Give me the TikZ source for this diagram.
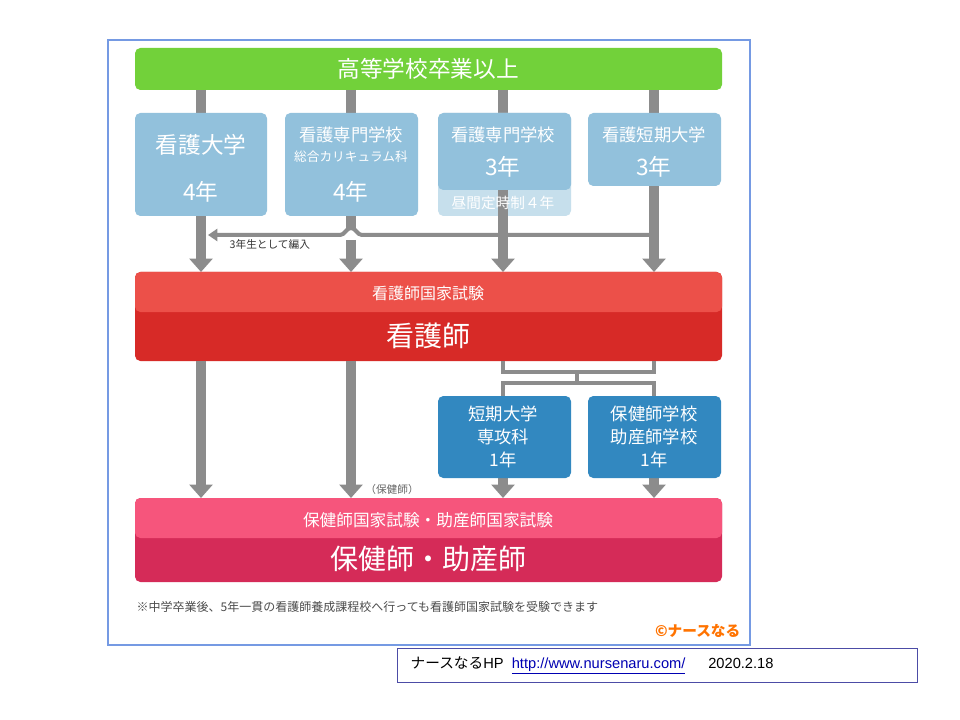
\documentclass[tikz,border=0pt]{standalone}
\usepackage{fontspec}
\newfontfamily\jp{Noto Sans CJK JP}
\setmainfont{Liberation Sans}
\usetikzlibrary{arrows.meta}
\definecolor{gbar}{HTML}{72D13A}
\definecolor{lblue}{HTML}{92C1DC}
\definecolor{llblue}{HTML}{C6DFEC}
\definecolor{redtop}{HTML}{EC5049}
\definecolor{redbot}{HTML}{D72A27}
\definecolor{dblue}{HTML}{3288C0}
\definecolor{pinktop}{HTML}{F6557C}
\definecolor{pinkbot}{HTML}{D52B58}
\definecolor{arr}{HTML}{8C8C8C}
\tikzset{
  box/.style={rounded corners=4pt,draw=none},
  wt/.style={text=white,font=\jp\bfseries,align=center,inner sep=0pt},
  garr/.style={draw=arr,line width=7.5pt,-{Triangle[width=17pt,length=10pt]}},
  gline/.style={draw=arr,line width=7.5pt},
  thin/.style={draw=arr,line width=3pt}
}
\begin{document}
\begin{tikzpicture}[x=0.75pt,y=-0.75pt]
\useasboundingbox (0,0) rectangle (960,720);
\fill[white] (0,0) rectangle (960,720);
\draw[draw=lblue!80!blue,line width=0.8pt] (108,40) rectangle (750,645);
% top bar
\fill[gbar,box] (135,48) rectangle (722,90);
\node[wt,font=\jp\fontsize{17}{20}\selectfont] (top) at (428,69) {高等学校卒業以上};
% columns
\coordinate (c1) at (201,90); \coordinate (c2) at (351,90);
\coordinate (c3) at (503,90); \coordinate (c4) at (654,90);
\draw[gline] (201,90) -- (201,113);
\draw[gline] (351,90) -- (351,113);
\draw[gline] (503,90) -- (503,113);
\draw[gline] (654,90) -- (654,113);
% transfer line
\draw[thin,-{Triangle[width=9pt,length=7pt]}] (654,235) -- (362,235) to[out=180,in=0] (351,228) to[out=180,in=0] (340,235) -- (208,235);
\node[font=\jp\fontsize{8}{9}\selectfont,text=black!80,anchor=west] (hen) at (225,244) {3年生として編入};
% arrows to red
\draw[garr] (201,216) -- (201,272);
\draw[gline] (351,216) -- (351,228);
\draw[garr] (351,240) -- (351,272);
\draw[garr] (503,216) -- (503,272);
\draw[garr] (654,186) -- (654,272);
% boxes
\fill[lblue,box] (135,113) rectangle (267,216);
\node[wt,font=\jp\fontsize{17}{20}\selectfont] (b1) at (201,145) {看護大学};
\node[wt,font=\jp\fontsize{17}{20}\selectfont] (b1y) at (201,192) {4年};
\fill[lblue,box] (285,113) rectangle (418,216);
\node[wt,font=\jp\fontsize{13}{15}\selectfont] (b2) at (351,135) {看護専門学校};
\node[wt,font=\jp\fontsize{9.5}{11}\selectfont] (b2b) at (351,157) {総合カリキュラム科};
\node[wt,font=\jp\fontsize{17}{20}\selectfont] (b2y) at (351,192) {4年};
\fill[llblue,box] (438,113) rectangle (571,216);
\fill[lblue,rounded corners=4pt] (438,113) -- (571,113) -- (571,190) -- (438,190) -- cycle;
\draw[gline] (503,190) -- (503,216);
\node[wt,font=\jp\fontsize{13}{15}\selectfont] (b3) at (503,135) {看護専門学校};
\node[wt,font=\jp\fontsize{17}{20}\selectfont] (b3y) at (503,167) {3年};
\node[wt,font=\jp\fontsize{11}{13}\selectfont] (b3b) at (503,203) {昼間定時制４年};
\fill[lblue,box] (588,113) rectangle (721,186);
\node[wt,font=\jp\fontsize{13}{15}\selectfont] (b4) at (654,135) {看護短期大学};
\node[wt,font=\jp\fontsize{17}{20}\selectfont] (b4y) at (654,167) {3年};
% red box
\fill[redbot,box] (135,272) rectangle (722,361);
\fill[redtop,rounded corners=4pt] (135,312) -- (135,272) -- (722,272) -- (722,312) -- cycle;
\node[wt,font=\jp\fontsize{12}{14}\selectfont] (r1) at (428,293) {看護師国家試験};
\node[wt,font=\jp\fontsize{21}{24}\selectfont] (r2) at (428,336) {看護師};
% lower arrows
\draw[garr] (201,361) -- (201,498);
\draw[garr] (351,361) -- (351,498);
\node[font=\jp\fontsize{8}{9}\selectfont,text=black!60] (hk) at (392,489) {（保健師）};
\draw[thin] (503,361) -- (503,372) -- (654,372) -- (654,361);
\draw[thin] (577,372) -- (577,383);
\draw[thin] (503,396) -- (503,383) -- (654,383) -- (654,396);
\draw[garr] (503,478) -- (503,498);
\draw[garr] (654,478) -- (654,498);
\fill[dblue,box] (438,396) rectangle (571,478);
\node[wt,font=\jp\fontsize{13}{17}\selectfont] (s1) at (503,437) {短期大学\\専攻科\\1年};
\fill[dblue,box] (588,396) rectangle (721,478);
\node[wt,font=\jp\fontsize{13}{17}\selectfont] (s2) at (654,437) {保健師学校\\助産師学校\\1年};
% pink box
\fill[pinkbot,box] (135,498) rectangle (722,582);
\fill[pinktop,rounded corners=4pt] (135,538) -- (135,498) -- (722,498) -- (722,538) -- cycle;
\node[wt,font=\jp\fontsize{12.5}{14}\selectfont] (p1) at (428,520) {保健師国家試験・助産師国家試験};
\node[wt,font=\jp\fontsize{21}{24}\selectfont] (p2) at (428,559) {保健師・助産師};
% note
\node[font=\jp\fontsize{9}{11}\selectfont,text=black!70,anchor=west] (note) at (132,607) {※中学卒業後、5年一貫の看護師養成課程校へ行っても看護師国家試験を受験できます};
\node[font=\jp\bfseries\fontsize{11}{13}\selectfont,text=orange!90!red,anchor=east] (cr) at (745,631) {©ナースなる};
% footer
\draw[draw=blue!50!black!70,line width=0.6pt] (397,648) rectangle (917,682);
\node[anchor=west,font=\fontsize{11}{13}\selectfont] (ft) at (406,665) {{\jp ナースなる}HP\ \ \textcolor{blue!70!black}{\underline{http://www.nursenaru.com/}}\quad\ \ 2020.2.18};
\end{tikzpicture}
\end{document}
